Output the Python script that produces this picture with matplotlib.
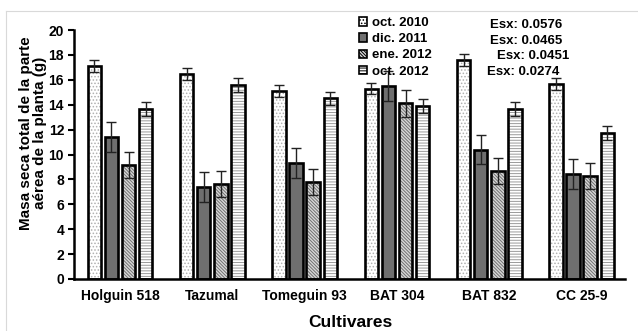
import matplotlib
matplotlib.use("Agg")
import matplotlib.pyplot as plt
import numpy as np
from matplotlib.lines import Line2D
from matplotlib.patches import Patch

plt.rcParams['font.family'] = ['Liberation Sans', 'DejaVu Sans']
plt.rcParams['hatch.linewidth'] = 0.7

categories = ['Holguin 518', 'Tazumal', 'Tomeguin 93', 'BAT 304', 'BAT 832', 'CC 25-9']
series_names = ['oct. 2010', 'dic. 2011', 'ene. 2012', 'oct. 2012']
oct2010 = [17.1, 16.5, 15.1, 15.3, 17.6, 15.7]
dic2011 = [11.4, 7.4, 9.3, 15.5, 10.4, 8.4]
ene2012 = [9.15, 7.6, 7.8, 14.1, 8.65, 8.3]
oct2012 = [13.65, 15.6, 14.5, 13.9, 13.65, 11.7]
err_oct2010 = [0.48] * 6
err_dic2011 = [1.2] * 6
err_ene2012 = [1.05] * 6
err_oct2012 = [0.55] * 6
esx_labels = ['Esx: 0.0576', 'Esx: 0.0465', 'Esx: 0.0451', 'Esx: 0.0274']

values = [oct2010, dic2011, ene2012, oct2012]
errors = [err_oct2010, err_dic2011, err_ene2012, err_oct2012]
faces = ['white', '#6f6f6f', '#d8d8d8', 'white']
hatches = ['.....', '', '\\\\\\\\\\\\\\\\\\\\', '------']
hatch_cols = ['#b0b0b0', '#6f6f6f', '#707070', '#9a9a9a']

W, H = 638, 331
fig = plt.figure(figsize=(W / 100, H / 100), dpi=100)
ax = fig.add_axes([73.8 / W, (H - 279) / H, 554 / W, 249 / H])

x = np.arange(len(categories))
width = 0.145
step = 0.185
offsets = (np.arange(4) - 1.5) * step
for i in range(4):
    xp = x + offsets[i]
    ax.bar(xp, values[i], width, color=faces[i], hatch=hatches[i],
           edgecolor=hatch_cols[i], linewidth=0, zorder=2)
    ax.bar(xp, values[i], width, fill=False, edgecolor='black',
           linewidth=1.9, zorder=3)
    ax.errorbar(xp, values[i], yerr=errors[i], fmt='none', ecolor='#222222',
                elinewidth=1.0, capsize=3.5, capthick=1.0, zorder=4)

ax.set_xlim(-0.5, 5.5)
ax.set_ylim(0, 20)
ax.set_yticks(np.arange(0, 21, 2))
ax.set_xticks(x)
ax.set_xticklabels(categories, fontsize=10, fontweight='bold')
for lab in ax.get_yticklabels():
    lab.set_fontweight('bold')
    lab.set_fontsize(10)
ax.tick_params(axis='x', length=0, pad=7)
ax.tick_params(axis='y', length=4, width=1.5, direction='out', pad=3)
for s in ['top', 'right']:
    ax.spines[s].set_visible(False)
for s in ['left', 'bottom']:
    ax.spines[s].set_linewidth(1.8)
ax.spines['bottom'].set_bounds(-0.5, 5.47)

ax.set_xlabel('Cultivares', fontsize=12.5, fontweight='bold', labelpad=9)

fig.text(33 / W, 1 - 133 / H, 'Masa seca total de la parte\naérea de la planta (g)',
         rotation=90, ha='center', va='center', multialignment='center',
         fontsize=11, fontweight='bold', linespacing=0.95)

handles = [Patch(facecolor=faces[i], hatch=hatches[i], edgecolor='black', linewidth=1.2)
           for i in range(4)]
leg = fig.legend(handles, series_names, loc='upper left',
                 bbox_to_anchor=(359 / W, 1 - 17 / H), frameon=False,
                 prop={'size': 9.5, 'weight': 'bold'}, handlelength=0.6,
                 handleheight=0.6, handletextpad=0.35, labelspacing=0.32,
                 borderpad=0, borderaxespad=0)

esx_x = [490, 490, 497, 487]
esx_y = [25, 41, 56, 72]
for t, xx, yy in zip(esx_labels, esx_x, esx_y):
    fig.text(xx / W, 1 - yy / H, t, ha='left', va='center', fontsize=9.5,
             fontweight='bold')

# light figure border lines (top and left)
fig.add_artist(Line2D([6 / W, 1], [1 - 11 / H, 1 - 11 / H], color='#d9d9d9', lw=0.8,
                      transform=fig.transFigure))
fig.add_artist(Line2D([6 / W, 6 / W], [0, 1 - 11 / H], color='#d9d9d9', lw=0.8,
                      transform=fig.transFigure))

fig.savefig('out.png', dpi=100)
